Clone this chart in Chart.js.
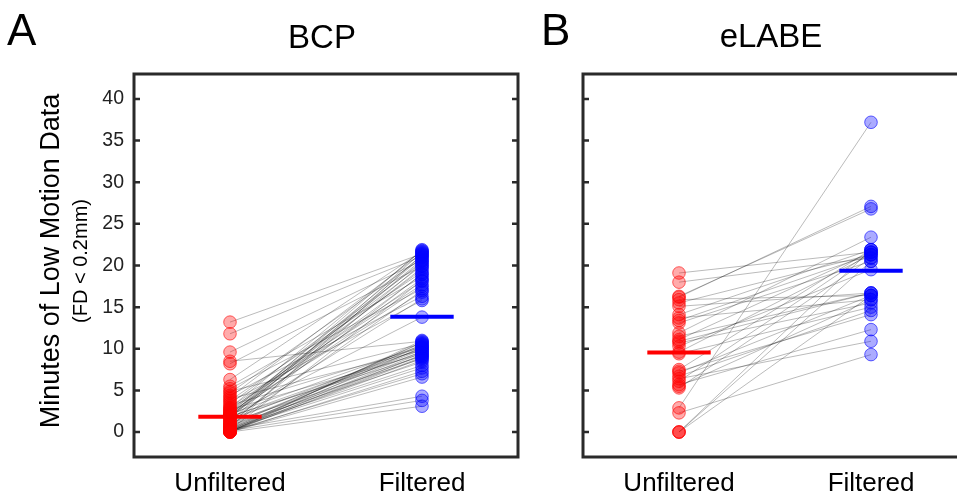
<!DOCTYPE html>
<html>
<head>
<meta charset="utf-8">
<script src="https://cdn.jsdelivr.net/npm/chart.js@4.4.1/dist/chart.umd.min.js"></script>
<style>
  html, body { margin: 0; padding: 0; background: #fff; }
  #wrap { position: relative; width: 957px; height: 496px; overflow: hidden; }
  #chartA { position: absolute; left: 0; top: 0; }
  #chartB { position: absolute; left: 540px; top: 0; }
</style>
</head>
<body>
<div id="wrap">
  <canvas id="chartA" width="540" height="496" style="width:540px;height:496px"></canvas>
  <canvas id="chartB" width="450" height="496" style="width:450px;height:496px"></canvas>
</div>
<script>
const categories = ['Unfiltered', 'Filtered'];
const yTicks = [0, 5, 10, 15, 20, 25, 30, 35, 40];

// BCP: one entry per subject, same order in both arrays
const bcpUnfiltered = [13.2, 11.8, 9.6, 8.5, 8.2, 6.3, 5.5, 5.2, 4.9, 4.7,
    4.4, 4.2, 4.0, 3.8, 3.6, 3.4, 3.2, 3.0, 2.9, 2.8,
    2.7, 2.6, 2.5, 2.4, 2.3, 2.2, 2.15, 2.1, 2.05, 2.0,
    1.95, 1.9, 1.9, 1.88, 1.86, 1.82, 1.7, 1.6, 1.5, 1.4,
    1.3, 1.2, 1.1, 1.0, 0.95, 0.9, 0.8, 0.75, 0.7, 0.6,
    0.55, 0.5, 0.45, 0.4, 0.35, 0.3, 0.3, 0.25, 0.2, 0.2,
    0.15, 0.1, 0.1, 0.05, 0.05, 0.0, 0.0, 0.0, 0.0, 0.0];
const bcpFiltered = [21.4, 21.1, 20.6, 10.9, 19.9, 21.7, 18.6, 17.2, 10.6, 20.9,
    16.3, 21.5, 9.8, 19.2, 15.8, 20.3, 10.2, 18.1, 21.8, 17.7,
    9.4, 20.0, 19.5, 16.8, 21.2, 18.9, 10.4, 20.5, 17.5, 21.9,
    13.8, 19.7, 9.1, 21.0, 18.4, 10.0, 20.7, 9.6, 16.0, 10.3,
    21.6, 8.8, 19.0, 10.1, 20.2, 9.9, 8.4, 17.0, 10.7, 9.7,
    21.3, 9.2, 8.0, 10.5, 4.3, 9.5, 7.7, 18.2, 10.8, 9.0,
    3.8, 8.6, 7.0, 10.2, 9.3, 6.6, 3.1, 8.9, 11.0, 7.3];
const bcpMedians = [1.84, 13.85];

// eLABE
const elabeUnfiltered = [19.1, 18.0, 16.3, 16.2, 15.9, 15.5, 15.1, 14.1, 13.7, 13.4,
    13.1, 11.9, 11.5, 11.1, 10.9, 10.7, 10.3, 9.6, 9.4, 7.5,
    7.3, 7.1, 6.7, 6.4, 6.1, 5.7, 5.5, 5.3, 2.9, 2.3,
    0.0, 0.0, 0.0];
const elabeFiltered = [21.6, 20.9, 26.8, 27.1, 16.4, 21.3, 16.7, 21.9, 15.9, 21.3,
    20.5, 23.4, 16.7, 21.6, 16.7, 15.5, 19.5, 21.3, 15.0, 21.9,
    14.1, 16.4, 14.6, 10.9, 21.6, 12.3, 15.9, 20.9, 37.2, 9.3,
    21.9, 16.4, 20.5];
const elabeMedians = [9.56, 19.37];

const FONT = 'Liberation Sans, Arial, Helvetica, sans-serif';

function buildDatasets(unfiltered, filtered, medians) {
    const sets = [];
    // median bars, drawn on top
    medians.forEach((m, i) => {
        sets.push({
            type: 'line',
            data: [{ x: i + 1 - 0.165, y: m }, { x: i + 1 + 0.165, y: m }],
            borderColor: i === 0 ? '#ff0000' : '#0000ff',
            borderWidth: 4,
            borderCapStyle: 'butt',
            pointRadius: 0,
            order: 0
        });
    });
    sets.push({
        type: 'scatter',
        data: unfiltered.map(v => ({ x: 1, y: v })),
        pointRadius: 6.3,
        backgroundColor: 'rgba(255,0,0,0.33)',
        borderColor: 'rgba(255,0,0,0.6)',
        borderWidth: 1,
        order: 1
    });
    sets.push({
        type: 'scatter',
        data: filtered.map(v => ({ x: 2, y: v })),
        pointRadius: 6.3,
        backgroundColor: 'rgba(0,0,255,0.33)',
        borderColor: 'rgba(0,0,255,0.6)',
        borderWidth: 1,
        order: 1
    });
    // one thin line per subject
    unfiltered.forEach((v, i) => {
        sets.push({
            type: 'line',
            data: [{ x: 1, y: v }, { x: 2, y: filtered[i] }],
            borderColor: 'rgba(0,0,0,0.3)',
            borderWidth: 0.9,
            pointRadius: 0,
            order: 2
        });
    });
    return sets;
}

// box, inner ticks and the free text
const framePlugin = {
    id: 'frame',
    afterDatasetsDraw(chart, args, opts) {
        const ctx = chart.ctx;
        const a = chart.chartArea;
        const y = chart.scales.y;
        ctx.save();
        ctx.strokeStyle = '#2a2a2a';
        ctx.lineWidth = 3;
        ctx.strokeRect(a.left, a.top, a.right - a.left, a.bottom - a.top);
        ctx.lineWidth = 2.5;
        yTicks.forEach(v => {
            const py = y.getPixelForValue(v);
            ctx.beginPath();
            ctx.moveTo(a.left, py); ctx.lineTo(a.left + 6, py);
            ctx.moveTo(a.right - 6, py); ctx.lineTo(a.right, py);
            ctx.stroke();
        });
        ctx.fillStyle = '#000';
        (opts.texts || []).forEach(t => {
            ctx.save();
            ctx.font = t.size + 'px ' + FONT;
            ctx.textAlign = t.align || 'center';
            ctx.textBaseline = t.baseline || 'alphabetic';
            ctx.translate(t.x, t.y);
            if (t.rotate) ctx.rotate(-Math.PI / 2);
            ctx.fillText(t.text, 0, 0);
            ctx.restore();
        });
        ctx.restore();
    }
};

function makeOptions(leftWidth, rightPad, showY, texts) {
    return {
        responsive: false,
        animation: false,
        layout: { padding: { top: 74, right: rightPad, left: 0, bottom: 0 } },
        plugins: {
            legend: { display: false },
            tooltip: { enabled: false },
            frame: { texts: texts }
        },
        scales: {
            x: {
                type: 'linear', min: 0.5, max: 2.5,
                afterBuildTicks: s => { s.ticks = categories.map((c, i) => ({ value: i + 1 })); },
                afterFit: s => { s.height = 39; },
                grid: { display: false, drawTicks: false },
                border: { display: false },
                ticks: {
                    padding: 11, color: '#000', maxRotation: 0,
                    font: { family: FONT, size: 26 },
                    callback: (v, i) => categories[i]
                }
            },
            y: {
                type: 'linear', min: -3, max: 43,
                afterBuildTicks: s => { s.ticks = yTicks.map(v => ({ value: v })); },
                afterFit: s => { s.width = leftWidth; },
                grid: { display: false, drawTicks: false },
                border: { display: false },
                ticks: {
                    display: showY, padding: 10, color: '#222',
                    font: { family: FONT, size: 19.5 }
                }
            }
        }
    };
}

new Chart(document.getElementById('chartA'), {
    type: 'scatter',
    data: { datasets: buildDatasets(bcpUnfiltered, bcpFiltered, bcpMedians) },
    options: makeOptions(134, 22, true, [
        { text: 'A', x: 7, y: 45, size: 44, align: 'left' },
        { text: 'BCP', x: 322, y: 48, size: 33 },
        { text: 'Minutes of Low Motion Data', x: 52, y: 261, size: 27, rotate: true, baseline: 'middle' },
        { text: '(FD < 0.2mm)', x: 81, y: 261, size: 20, rotate: true, baseline: 'middle' }
    ]),
    plugins: [framePlugin]
});

new Chart(document.getElementById('chartB'), {
    type: 'scatter',
    data: { datasets: buildDatasets(elabeUnfiltered, elabeFiltered, elabeMedians) },
    options: makeOptions(43, 23, false, [
        { text: 'B', x: 1, y: 45, size: 44, align: 'left' },
        { text: 'eLABE', x: 231, y: 47, size: 33 }
    ]),
    plugins: [framePlugin]
});
</script>
</body>
</html>
